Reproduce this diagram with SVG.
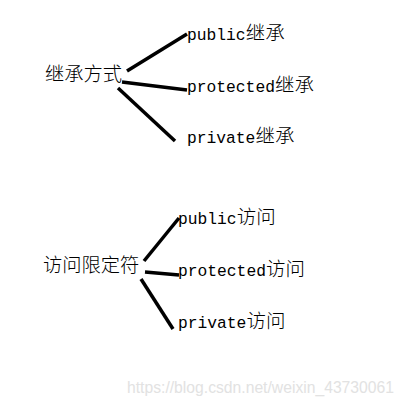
<svg xmlns="http://www.w3.org/2000/svg" width="405" height="403" viewBox="0 0 405 403">
<style>
text{fill:#000}
.lat{font-family:"Liberation Mono","DejaVu Sans Mono",monospace;font-size:16.3px}
.cjk{font-family:"Noto Sans CJK SC","Noto Sans CJK JP",sans-serif;font-size:19.5px;font-weight:300}
.root{font-family:"Noto Sans CJK SC","Noto Sans CJK JP",sans-serif;font-size:19.3px;font-weight:300}
.edge{stroke:#000;stroke-width:3.5;fill:none;stroke-linecap:butt}
.wm{font-family:"Liberation Sans",Arial,sans-serif;font-size:16px;fill:#e2e2e2}
</style>
<rect width="405" height="403" fill="#fff"/>
<g id="connectors">
<line class="edge" x1="127" y1="71" x2="187" y2="34"/>
<line class="edge" x1="122" y1="82" x2="187" y2="90"/>
<line class="edge" x1="118" y1="88" x2="175" y2="141"/>
<line class="edge" x1="144" y1="261" x2="179" y2="218"/>
<line class="edge" x1="145" y1="272" x2="179" y2="275"/>
<line class="edge" x1="141" y1="279" x2="173" y2="329"/>
</g>
<g id="node-inherit"><text class="root" x="45" y="81">继承方式</text></g>
<g id="node-public-inherit"><text x="187" y="40"><tspan class="lat">public</tspan><tspan class="cjk">继承</tspan></text></g>
<g id="node-protected-inherit"><text x="187" y="92"><tspan class="lat">protected</tspan><tspan class="cjk">继承</tspan></text></g>
<g id="node-private-inherit"><text x="187" y="143"><tspan class="lat">private</tspan><tspan class="cjk">继承</tspan></text></g>
<g id="node-access"><text class="root" x="43" y="272">访问限定符</text></g>
<g id="node-public-access"><text x="178" y="224"><tspan class="lat">public</tspan><tspan class="cjk">访问</tspan></text></g>
<g id="node-protected-access"><text x="178" y="276"><tspan class="lat">protected</tspan><tspan class="cjk">访问</tspan></text></g>
<g id="node-private-access"><text x="178" y="328"><tspan class="lat">private</tspan><tspan class="cjk">访问</tspan></text></g>
<g id="watermark"><text class="wm" x="127" y="393" textLength="267" lengthAdjust="spacingAndGlyphs">https://blog.csdn.net/weixin_43730061</text></g>
</svg>
